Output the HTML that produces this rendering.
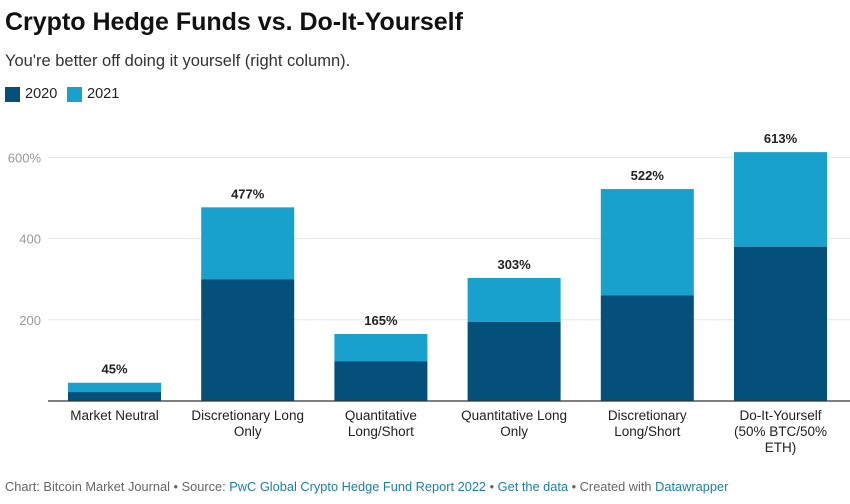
<!DOCTYPE html>
<html><head><meta charset="utf-8"><style>
body{margin:0;width:850px;height:504px;background:#fff;font-family:"Liberation Sans",sans-serif;overflow:hidden;position:relative}
.t{position:absolute;left:5px;top:8px;font-size:25px;font-weight:bold;color:#111}
.s{position:absolute;left:5px;top:52px;font-size:16.5px;color:#333}
.lg{position:absolute;top:86px;font-size:14.5px;color:#222;display:flex;align-items:center}
.lg i{display:inline-block;width:15px;height:15px;margin-right:5px}
.f{position:absolute;left:5px;top:479px;font-size:12.8px;color:#666}
.f a{color:#1d81a2;text-decoration:none}
</style></head><body>
<div class="t">Crypto Hedge Funds vs. Do-It-Yourself</div>
<div class="s">You're better off doing it yourself (right column).</div>
<div class="lg" style="left:5px"><i style="background:#04507a"></i>2020</div>
<div class="lg" style="left:67px"><i style="background:#18a1cd"></i>2021</div>
<svg id="c" width="850" height="504" style="position:absolute;left:0;top:0"></svg>
<div class="f">Chart: Bitcoin Market Journal • Source: <a>PwC Global Crypto Hedge Fund Report 2022</a> • <a>Get the data</a> • Created with <a>Datawrapper</a></div>
<script>
const categories=[["Market Neutral"],["Discretionary Long","Only"],["Quantitative","Long/Short"],["Quantitative Long","Only"],["Discretionary","Long/Short"],["Do-It-Yourself","(50% BTC/50%","ETH)"]];
const v2020=[22,300,98,195,260,380];
const totals=[45,477,165,303,522,613];
const ticks=[200,400,600];
const tickLabels=["200","400","600%"];
const svg=document.getElementById('c');
const NS='http://www.w3.org/2000/svg';
const y=v=>401-v*0.406;
const x=i=>68+i*133.2;
const bw=93;
function mk(t,a,p){const e=document.createElementNS(NS,t);for(const k in a)e.setAttribute(k,a[k]);(p||svg).appendChild(e);return e;}
ticks.forEach((t,i)=>{
 const g=mk('line',{x1:48,x2:850,y1:y(t),y2:y(t),stroke:'#e6e6e6','stroke-width':1});
 
 
 const l=mk('text',{x:41,y:y(t)+5,'text-anchor':'end','font-size':13,fill:'#999','font-family':'Liberation Sans'});
 l.textContent=tickLabels[i];
 
 
});
categories.forEach((c,i)=>{
 const top=mk('rect',{x:x(i),y:y(totals[i]),width:bw,height:y(v2020[i])-y(totals[i]),fill:'#18a1cd'});
 
 
 const b=mk('rect',{x:x(i),y:y(v2020[i]),width:bw,height:401-y(v2020[i]),fill:'#04507a'});
 
 
 const vl=mk('text',{x:x(i)+bw/2,y:y(totals[i])-9,'text-anchor':'middle','font-size':13,'font-weight':'bold',fill:'#222','font-family':'Liberation Sans'});
 vl.textContent=totals[i]+'%';
 
 
 c.forEach((ln,j)=>{
  const t=mk('text',{x:x(i)+bw/2,y:420+j*16,'text-anchor':'middle','font-size':13.5,fill:'#222','font-family':'Liberation Sans'});
  t.textContent=ln;
  
  
 });
});
const ax=mk('line',{x1:48,x2:850,y1:401,y2:401,stroke:'#333','stroke-width':1.3});


</script>
</body></html>
